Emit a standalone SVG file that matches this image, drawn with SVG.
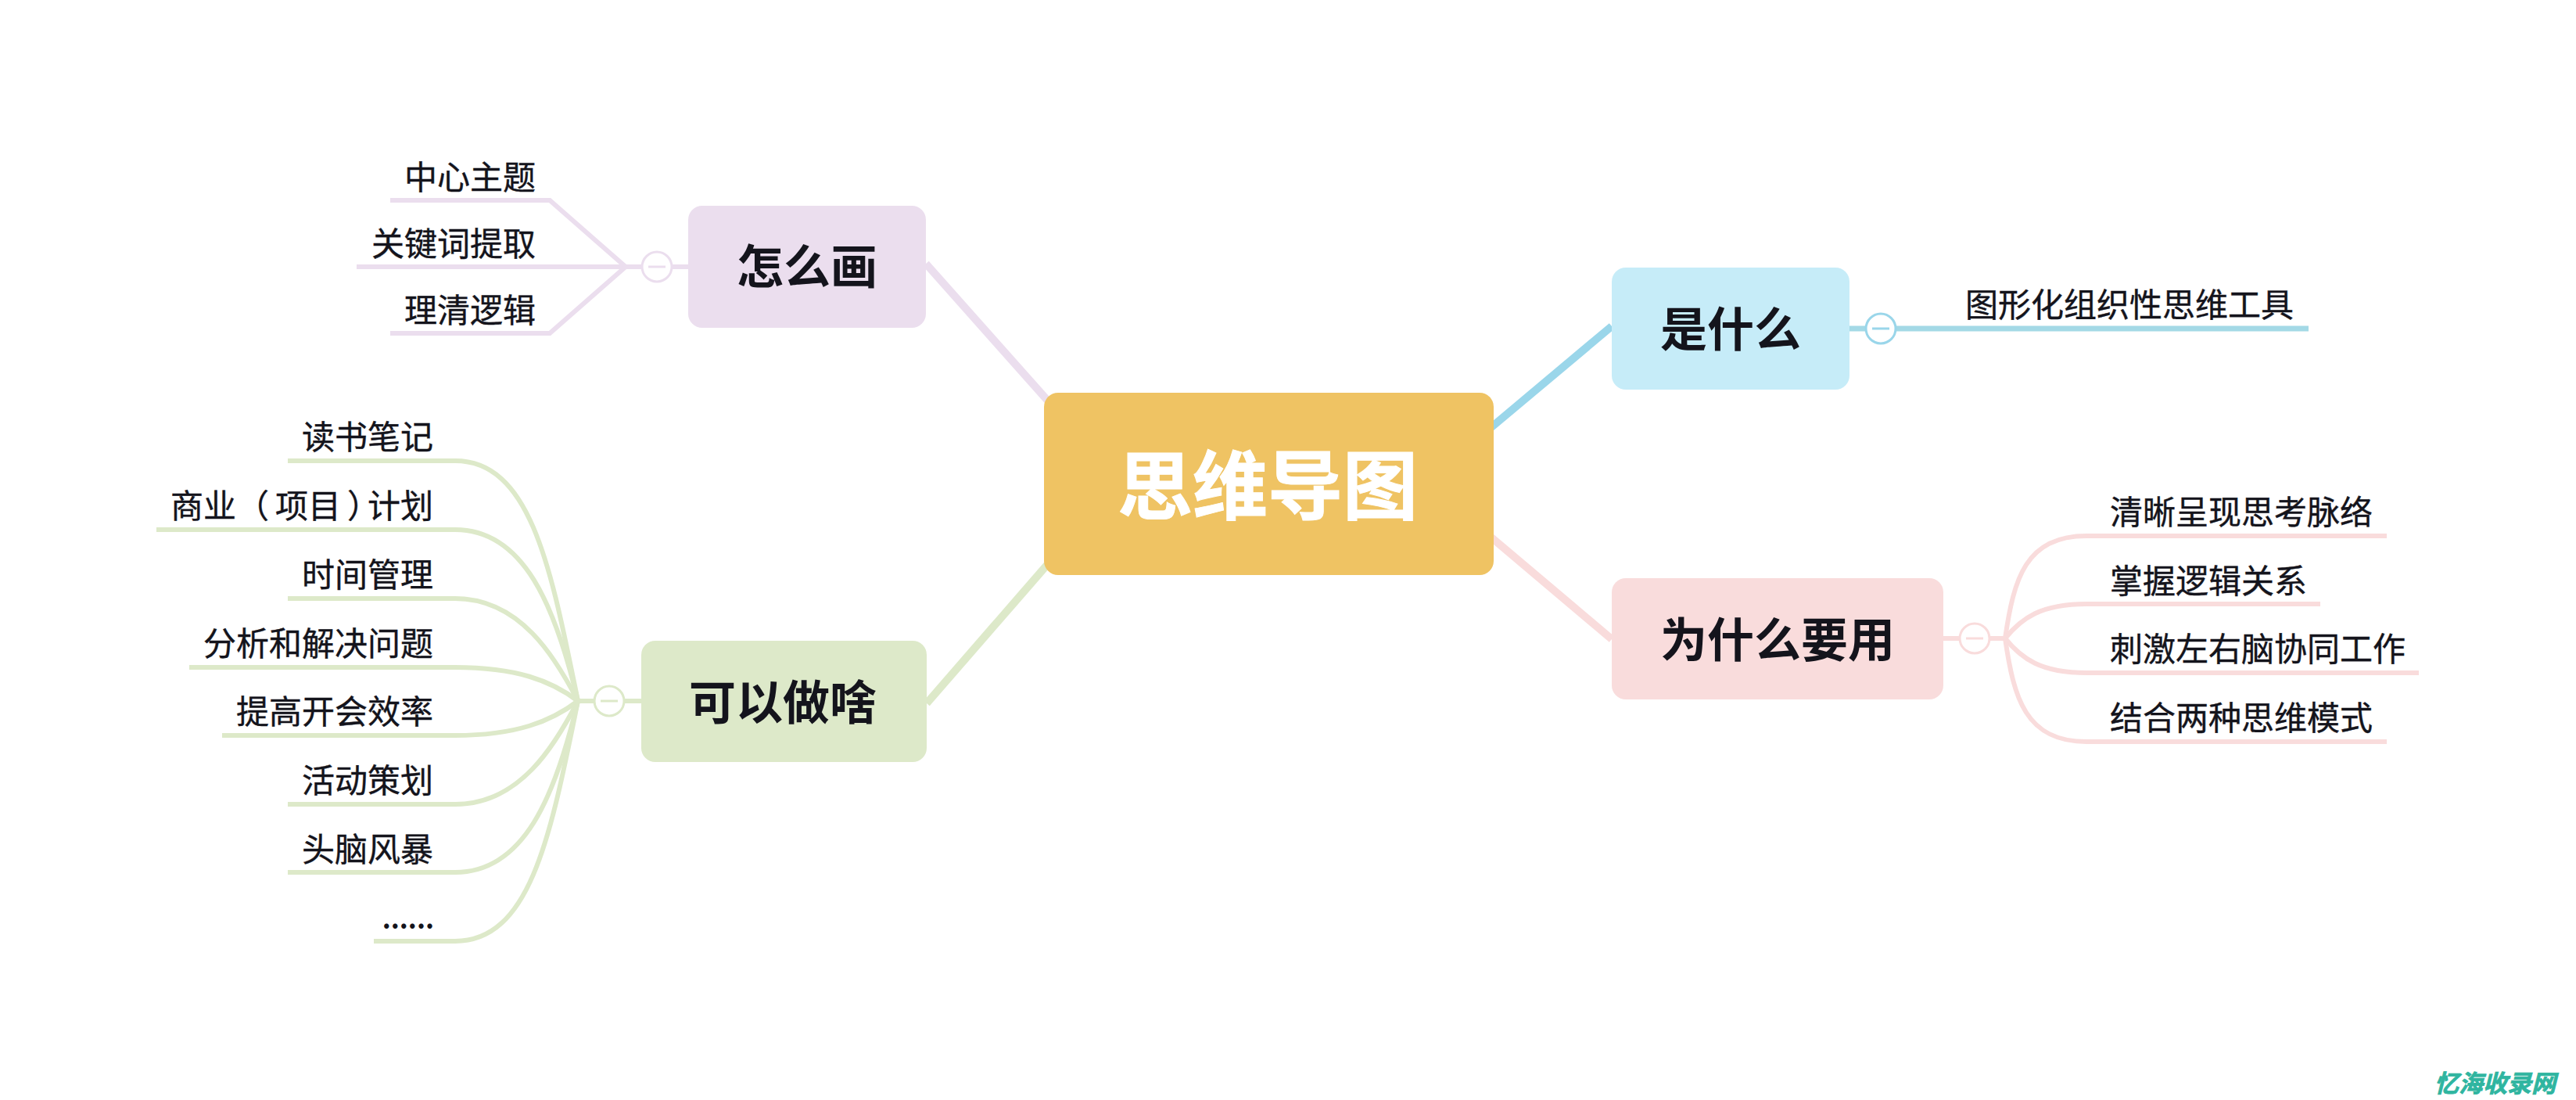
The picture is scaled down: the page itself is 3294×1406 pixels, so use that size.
<svg xmlns="http://www.w3.org/2000/svg" width="3294" height="1406" viewBox="0 0 3294 1406">
<style>
text{font-family:"Microsoft YaHei","Noto Sans CJK SC","Liberation Sans",sans-serif;fill:#14141c}
.leaf{font-size:42px;text-anchor:end;stroke:#14141c;stroke-width:.4px}
.leafs{font-size:42px;text-anchor:start;stroke:#14141c;stroke-width:.4px}
.dots{font-size:34px;font-weight:700;text-anchor:end}
.main{font-size:60px;font-weight:700;text-anchor:middle}
.root{font-size:96px;font-weight:700;text-anchor:middle;fill:#fff;stroke:#fff;stroke-width:1px}
.mark{font-size:31px;font-weight:700;font-style:italic;fill:#2fb5a0;stroke:#2fb5a0;stroke-width:.8px;text-anchor:end}
path,line{fill:none}
.tr{stroke-width:10}
.br{stroke-width:6}
.pu{stroke:#ebdeee}.gr{stroke:#dde9c9}.bl{stroke:#9ad6ea}.pk{stroke:#f9dcdc}
.t{fill:#fff;stroke-width:3}
</style>
<rect width="3294" height="1406" fill="#fff"/>
<g id="connectors">
<line class="tr pu" x1="1184" y1="337" x2="1345" y2="518"/>
<line class="tr gr" x1="1185" y1="899" x2="1345" y2="715"/>
<line class="tr bl" x1="1900" y1="552" x2="2061" y2="417"/>
<line class="tr pk" x1="1900" y1="681" x2="2061" y2="817"/>
<g class="pu br">
<path d="M880,341H800"/>
<path d="M800,341L703,256H499"/>
<path d="M800,341H456"/>
<path d="M800,341L703,426H499"/>
</g>
<g class="gr br">
<path d="M820,896H739"/>
<path d="M739,896C705,730 680,589 582,589H368"/>
<path d="M739,896C710,775 670,677 582,677H200"/>
<path d="M739,896C710,840 665,765 582,765H368"/>
<path d="M739,896C705,870 660,853 582,853H242"/>
<path d="M739,896C705,922 660,940 582,940H284"/>
<path d="M739,896C710,952 665,1028 582,1028H368"/>
<path d="M739,896C710,1018 670,1115 582,1115H368"/>
<path d="M739,896C705,1062 680,1203 582,1203H478"/>
</g>
<path stroke="#a3d9e6" stroke-width="7" d="M2365,420H2952"/>
<g class="pk br">
<path d="M2485,816H2564"/>
<path d="M2564,816C2575,740 2590,685 2668,685H3052"/>
<path d="M2564,816C2585,790 2610,772 2668,772H2967"/>
<path d="M2564,816C2585,842 2610,860 2668,860H3093"/>
<path d="M2564,816C2575,892 2590,948 2668,948H3052"/>
</g>
</g>
<g id="root"><rect x="1335" y="502" width="575" height="233" rx="18" fill="#efc363"/><text class="root" x="1621" y="656">思维导图</text></g>
<g id="n-how"><rect x="880" y="263" width="304" height="156" rx="18" fill="#ebdeee"/><text class="main" x="1032" y="363">怎么画</text>
<circle class="t pu" cx="840" cy="341" r="19"/><line class="pu" stroke-width="3" x1="829" y1="341" x2="851" y2="341"/></g>
<g id="n-use"><rect x="820" y="819" width="365" height="155" rx="18" fill="#dde9c9"/><text class="main" x="1001" y="920">可以做啥</text>
<circle class="t gr" cx="779" cy="896" r="19"/><line class="gr" stroke-width="3" x1="768" y1="896" x2="790" y2="896"/></g>
<g id="n-what"><rect x="2061" y="342" width="304" height="156" rx="18" fill="#c6ecf8"/><text class="main" x="2213" y="443">是什么</text>
<circle class="t bl" cx="2405" cy="420" r="19"/><line class="bl" stroke-width="3" x1="2394" y1="420" x2="2416" y2="420"/></g>
<g id="n-why"><rect x="2061" y="739" width="424" height="155" rx="18" fill="#f9dcdc"/><text class="main" x="2273" y="840">为什么要用</text>
<circle class="t pk" cx="2525" cy="816" r="19"/><line class="pk" stroke-width="3" x1="2514" y1="816" x2="2536" y2="816"/></g>
<g id="l1"><text class="leaf" x="685" y="242">中心主题</text></g>
<g id="l2"><text class="leaf" x="685" y="327">关键词提取</text></g>
<g id="l3"><text class="leaf" x="685" y="412">理清逻辑</text></g>
<g id="l4"><text class="leaf" x="554" y="574">读书笔记</text></g>
<g id="l5"><text class="leaf" x="554" y="662" dx="0 0 0 8 0 8 -16 0">商业（项目）计划</text></g>
<g id="l6"><text class="leaf" x="554" y="750">时间管理</text></g>
<g id="l7"><text class="leaf" x="554" y="838">分析和解决问题</text></g>
<g id="l8"><text class="leaf" x="554" y="925">提高开会效率</text></g>
<g id="l9"><text class="leaf" x="554" y="1013">活动策划</text></g>
<g id="l10"><text class="leaf" x="554" y="1101">头脑风暴</text></g>
<g id="l11"><text class="dots" x="555" y="1187">......</text></g>
<g id="l12"><text class="leafs" x="2513" y="405">图形化组织性思维工具</text></g>
<g id="l13"><text class="leafs" x="2698" y="670">清晰呈现思考脉络</text></g>
<g id="l14"><text class="leafs" x="2698" y="758">掌握逻辑关系</text></g>
<g id="l15"><text class="leafs" x="2698" y="845">刺激左右脑协同工作</text></g>
<g id="l16"><text class="leafs" x="2698" y="933">结合两种思维模式</text></g>
<text class="mark" x="3268" y="1396">忆海收录网</text>
</svg>
